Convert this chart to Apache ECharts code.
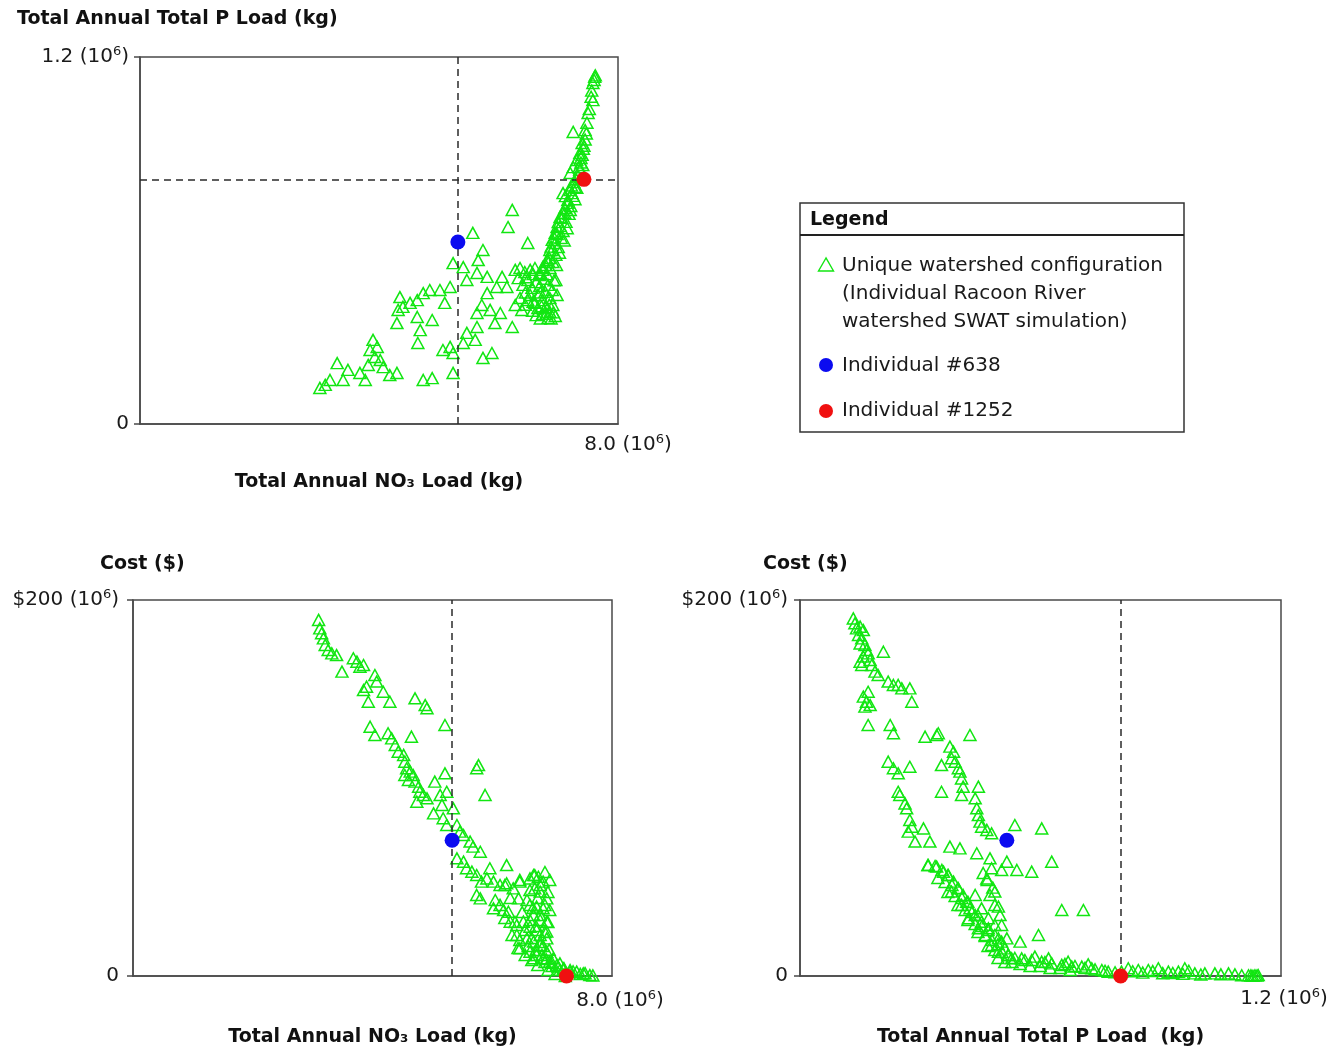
<!DOCTYPE html>
<html><head><meta charset="utf-8">
<script src="https://cdn.jsdelivr.net/npm/echarts@6/dist/echarts.min.js"></script>
<style>html,body{margin:0;padding:0;background:#fff}#c{width:1343px;height:1051px}</style>
</head><body><div id="c"></div>
<script>
// ---- data (NO3 in 10^6 kg, P in 10^6 kg, cost in 10^6 $) ----
const no3VsP = [
[7.61,1.135],[7.60,1.125],[7.62,1.140],[7.58,1.115],[7.56,1.090],[7.58,1.059],[7.50,1.017],[7.48,0.985],[7.25,0.955],[7.45,0.961],[7.45,0.930],[7.40,0.919],[7.42,0.900],[7.36,0.886],[7.38,0.870],[7.31,0.863],[7.25,0.840],[7.20,0.821],[7.28,0.775],[7.23,0.755],[7.08,0.755],[7.16,0.723],[7.11,0.690],[7.03,0.677],[6.98,0.644],[6.95,0.625],[6.90,0.602],[6.86,0.569],[6.81,0.536],[6.74,0.513],[6.69,0.494],
[7.47,0.950],[7.52,1.030],[7.55,1.070],[7.43,0.910],[7.35,0.840],[7.40,0.880],
[6.23,0.700],[6.16,0.644],[6.49,0.592],[5.57,0.625],[5.74,0.569],[5.66,0.536],[5.24,0.526],[5.41,0.513],[5.64,0.494],[5.47,0.471],[5.81,0.481],[6.06,0.481],[6.14,0.448],[5.97,0.448],[5.81,0.428],[5.72,0.389],[5.64,0.363],[5.86,0.373],[6.03,0.363],[5.94,0.330],[6.23,0.317],[5.64,0.317],[5.47,0.298],[5.61,0.275],[5.41,0.265],[5.19,0.252],[5.07,0.242],[5.24,0.232],[5.74,0.216],[5.89,0.232],[5.24,0.167],[4.89,0.150],[4.74,0.144],
[5.19,0.448],[5.10,0.396],[5.02,0.438],[4.85,0.438],[4.74,0.428],[4.64,0.405],[4.52,0.396],[4.40,0.383],[4.35,0.415],[4.32,0.373],[4.30,0.330],[4.64,0.350],[4.89,0.340],[4.69,0.307],[4.65,0.265],
[3.90,0.275],[3.97,0.252],[3.85,0.242],[3.93,0.219],[4.02,0.209],[4.07,0.186],[3.82,0.193],[3.68,0.167],[3.77,0.144],[3.48,0.177],[3.30,0.199],[3.40,0.144],[3.18,0.144],[3.10,0.128],[3.01,0.118],[4.30,0.167],[4.18,0.160],
[7.41,0.847],[7.36,0.831],[7.33,0.811],[7.26,0.791],[7.31,0.772],[7.20,0.765],[7.25,0.746],[7.16,0.732],[7.21,0.713],[7.11,0.706],[7.18,0.687],[7.06,0.674],[7.13,0.661],[7.03,0.647],[7.08,0.631],[6.98,0.621],[7.05,0.608],[6.95,0.592],[7.00,0.579],[6.90,0.569],[6.96,0.553],[6.85,0.543],[6.91,0.530],[6.79,0.520],[6.86,0.510],[6.74,0.504],[6.81,0.490],
[7.38,0.855],[7.30,0.800],[7.22,0.780],[7.28,0.735],[7.12,0.745],[7.20,0.700],[7.08,0.690],[7.15,0.640],[7.00,0.660],[7.10,0.600],[6.93,0.610],[7.02,0.560],[6.88,0.580],[6.97,0.520],[6.84,0.530],[6.93,0.470],[6.76,0.475],
[6.28,0.504],[6.36,0.510],[6.44,0.497],[6.53,0.504],[6.61,0.510],[6.69,0.487],[6.33,0.477],[6.49,0.471],[6.63,0.464],[6.41,0.455],[6.56,0.445],[6.69,0.451],[6.83,0.455],[6.90,0.438],[6.78,0.432],[6.66,0.422],[6.53,0.422],[6.86,0.412],[6.74,0.405],[6.61,0.396],[6.91,0.389],[6.79,0.383],[6.66,0.379],[6.86,0.366],[6.74,0.360],[6.95,0.353],[6.83,0.347],[6.63,0.356],[6.49,0.405],[6.36,0.412],[6.28,0.389],[6.39,0.373],[6.96,0.471],[6.98,0.422],
[6.58,0.490],[6.46,0.480],[6.70,0.430],[6.58,0.400],[6.45,0.390],[6.72,0.385],[6.85,0.390],[6.92,0.365],[6.70,0.345],[6.80,0.360],[6.57,0.370],[6.88,0.345],[6.45,0.430]
];
const no3VsCost = [
[3.10,189.4],[3.12,184.9],[3.15,182.3],[3.18,179.6],[3.21,176.1],[3.26,173.4],[3.32,171.6],[3.40,170.7],[3.49,161.9],[3.68,169.0],[3.74,167.2],[3.79,164.5],[3.85,165.4],[4.04,160.1],[4.07,156.6],[3.90,153.9],[3.85,152.1],[3.93,145.9],[4.18,151.2],[4.29,145.9],[4.71,147.7],[4.88,144.1],[4.91,142.4],[5.21,133.5],
[3.96,132.6],[4.04,128.2],[4.26,129.1],[4.32,126.4],[4.38,122.9],[4.65,127.3],[4.43,119.3],[4.52,117.6],[4.54,114.0],[4.57,110.5],[4.63,108.7],[4.68,106.9],[4.54,106.9],[4.60,104.3],[4.71,103.4],[4.77,100.7],[4.79,98.0],[4.85,96.3],[4.91,94.5],[4.74,92.7],
[5.04,103.4],[5.21,107.8],[5.24,98.0],[5.13,96.3],[5.16,91.0],[5.02,86.5],[5.18,83.9],[5.35,89.2],[5.24,80.3],[5.41,80.3],[5.46,76.8],[5.52,75.0],[5.77,112.2],[5.74,110.5],[5.88,96.3],
[5.63,71.5],[5.68,68.8],[5.80,66.1],[5.41,62.6],[5.52,60.8],[5.57,57.3],[5.66,55.5],[5.74,53.7],[5.82,50.2],[5.96,57.3],[6.24,59.0],[5.91,51.9],[6.02,50.2],[6.13,48.4],[6.24,49.3],[6.35,46.6],[5.74,43.1],[5.80,41.3],[6.02,36.0],[6.19,35.1],[6.27,34.2],[6.44,41.3],[6.46,50.2],
[6.63,51.9],[6.69,53.7],[6.77,52.8],[6.85,50.2],[6.71,46.6],[6.80,44.9],[6.91,41.3],[6.63,37.8],[6.74,36.9],[6.85,36.0],[6.69,32.4],[6.80,29.8],[6.91,28.9],[6.30,28.9],[6.41,27.1],[6.52,28.9],[6.63,26.2],[6.74,24.5],[6.91,23.6],[6.41,21.8],[6.58,20.0],[6.69,18.3],[6.80,16.5],[6.91,20.0],[6.80,21.8],
[6.46,14.7],[6.63,12.9],[6.74,11.2],[6.85,9.4],[6.96,7.6],[7.08,5.9],[7.19,4.1],[7.30,3.2],[7.41,2.3],[7.52,1.4],[7.63,0.5],[7.02,9.4],[7.13,6.7],[6.91,12.9],[6.69,9.4],
[6.71,53.7],[6.88,55.3],[6.96,51.1],[6.80,48.4],[6.63,45.7],[6.93,44.7],[6.76,41.5],[6.58,40.4],[6.88,37.8],[6.68,36.2],[6.96,35.1],[6.50,34.0],[6.80,32.4],[6.63,29.8],[6.93,28.7],[6.38,28.7],[6.73,26.6],[6.55,24.5],[6.88,23.4],[6.33,21.8],[6.66,20.2],[6.46,19.1],[6.80,18.1],[6.60,16.0],[6.43,14.9],[6.73,13.8],[6.55,11.2],[6.83,11.2],[6.66,8.5],[6.88,7.4],[6.76,5.9],[7.00,5.3],[6.93,3.2],[7.13,3.2],[7.30,2.1],[7.47,1.1],[7.05,1.1],[7.22,0.0],
[6.13,37.8],[6.21,30.9],[6.05,40.4],[6.30,41.5],[6.46,51.1],[6.21,48.4],[6.90,9.0],[7.00,7.0],[7.10,5.0],[7.20,4.0],[7.35,2.5],[7.55,1.5],[7.68,0.3],[6.95,14.0],[6.85,16.0]
];
const pVsCost = [
[0.133,190.2],[0.137,187.6],[0.141,184.9],[0.150,185.8],[0.158,184.0],[0.146,181.4],[0.154,179.6],[0.150,176.9],[0.162,176.1],[0.166,173.4],[0.170,171.6],[0.158,169.9],[0.150,167.2],[0.154,165.4],[0.175,168.1],[0.179,165.4],[0.187,161.9],[0.195,160.1],[0.208,172.5],[0.220,156.6],[0.233,154.8],[0.245,154.8],[0.254,153.0],[0.274,153.0],[0.279,145.9],
[0.158,148.6],[0.170,151.2],[0.166,145.9],[0.175,144.1],[0.162,143.3],[0.170,133.5],[0.225,133.5],[0.233,129.1],[0.312,127.3],[0.341,128.2],[0.345,129.1],[0.424,128.2],
[0.374,122.0],[0.383,119.3],[0.378,115.8],[0.387,114.0],[0.395,110.5],[0.399,108.7],[0.403,105.1],[0.407,100.7],[0.403,96.3],[0.445,100.7],[0.437,94.5],[0.441,89.2],[0.445,85.6],[0.449,82.1],[0.453,79.4],[0.466,77.7],[0.478,75.9],[0.353,112.2],[0.353,98.0],[0.536,80.3],[0.603,78.5],
[0.220,114.0],[0.233,110.5],[0.245,107.8],[0.274,111.3],[0.245,98.0],[0.249,96.3],[0.262,91.8],[0.266,89.2],[0.274,83.0],[0.279,79.4],[0.270,76.8],[0.308,78.5],[0.287,71.5],[0.324,71.5],
[0.374,68.8],[0.399,67.9],[0.441,65.3],[0.474,62.6],[0.516,60.8],[0.541,56.4],[0.578,55.5],[0.628,60.8],[0.478,57.3],[0.503,56.4],[0.466,51.9],[0.486,44.9],[0.495,36.9],[0.653,35.1],[0.707,35.1],[0.595,21.8],[0.549,18.3],
[0.320,59.0],[0.341,58.2],[0.358,55.5],[0.370,53.7],[0.383,50.2],[0.395,46.6],[0.407,43.1],[0.416,39.5],[0.424,36.0],[0.437,32.4],[0.453,28.9],[0.470,25.4],[0.486,21.8],[0.503,18.3],[0.511,14.7],[0.520,11.2],[0.528,9.4],
[0.378,44.9],[0.403,37.8],[0.420,30.7],[0.445,25.4],[0.462,21.8],[0.478,16.5],[0.495,12.9],[0.437,43.1],[0.453,36.0],[0.470,30.7],[0.486,27.1],[0.503,27.1],[0.495,20.0],[0.516,20.0],
[0.319,59.0],[0.337,58.5],[0.354,56.4],[0.369,53.7],[0.344,52.1],[0.362,50.0],[0.379,48.4],[0.394,46.8],[0.369,44.7],[0.387,42.6],[0.404,41.5],[0.419,39.4],[0.394,37.8],[0.412,35.1],[0.429,34.0],[0.444,32.4],[0.419,29.8],[0.437,27.7],[0.454,26.6],[0.469,24.5],[0.444,23.4],[0.462,21.3],[0.479,19.1],[0.494,17.0],[0.469,16.0],[0.486,13.8],[0.504,12.8],[0.519,11.2],[0.494,9.6],[0.511,7.4],[0.529,7.4],
[0.457,54.8],[0.467,51.1],[0.474,43.1],[0.486,37.8],[0.499,32.4],[0.481,47.0],
[0.553,9.4],[0.578,8.5],[0.603,7.6],[0.628,6.7],[0.653,5.9],[0.678,5.0],[0.703,5.0],[0.728,4.1],[0.753,3.2],[0.769,2.3],[0.819,4.1],[0.844,3.2],[0.869,3.2],[0.894,4.1],[0.919,2.3],[0.944,2.3],[0.960,4.1],[0.985,1.4],[1.010,1.4],[1.035,1.4],[1.069,1.4],[1.102,0.4],[1.119,0.4],[1.135,0.4],[1.143,0.5],
[0.586,10.3],[0.620,9.4],[0.669,7.6],[0.719,6.2],[0.802,2.3],
[0.549,6.4],[0.574,5.3],[0.599,5.3],[0.624,4.3],[0.649,4.3],[0.674,3.2],[0.536,9.6],[0.561,8.5],[0.611,7.4],[0.661,6.4],[0.686,5.3],[0.711,4.3],
[0.736,3.5],[0.761,2.8],[0.786,2.0],[0.830,2.5],[0.855,1.8],[0.880,2.6],[0.905,1.5],[0.930,1.6],[0.955,1.2],[0.970,2.8],[1.000,0.8],[1.050,0.9],[1.085,0.9],[1.125,0.3],[1.140,0.2],[1.130,0.1]
];
const ind638NO3P = [5.32, 0.595];
const ind1252NO3P = [7.43, 0.800];
const ind638NO3Cost = [5.33, 72.2];
const ind1252NO3Cost = [7.24, 0.0];
const ind638PCost = [0.516, 72.2];
const ind1252PCost = [0.800, 0.0];

const no3Max = 8, pMax = 1.2, costMax = 200;
const no3TickLabel = ['8.0 (10', '6', ')'];
const pTickLabel = ['1.2 (10', '6', ')'];
const costTickLabel = ['$200 (10', '6', ')'];
const legendLabels = ['Unique watershed configuration\n(Individual Racoon River\nwatershed SWAT simulation)', 'Individual #638', 'Individual #1252'];

// ---- styles ----
const FONT = 'DejaVu Sans';
const GREEN = '#12e612', BLUE = '#0b0bf0', RED = '#f01010';
const axisLineStyle = {color: '#4a4a4a', width: 1.5};
const tickRich = {
  n: {fontFamily: FONT, fontSize: 20, color: '#1a1a1a', lineHeight: 24},
  s: {fontFamily: FONT, fontSize: 13, color: '#1a1a1a', verticalAlign: 'top', lineHeight: 13}
};
const sup = p => '{n|' + p[0] + '}{s|' + p[1] + '}{n|' + p[2] + '}';
const nameFont = {fontFamily: FONT, fontSize: 19, fontWeight: 'bold', color: '#111'};

function xAx(gi, max, label, name, nameGap, pad, margin) {
  return {
    gridIndex: gi, type: 'value', min: 0, max: max, interval: max,
    axisLine: {show: true, onZero: false, lineStyle: axisLineStyle},
    axisTick: {show: false}, splitLine: {show: false},
    axisLabel: {showMinLabel: true, showMaxLabel: true, margin: margin, align: 'center', padding: [0, 0, 0, pad],
      formatter: v => (v === max ? sup(label) : ''), rich: tickRich},
    name: name, nameLocation: 'middle', nameGap: nameGap, nameTextStyle: nameFont
  };
}
function yAx(gi, max, label, margin) {
  return {
    gridIndex: gi, type: 'value', min: 0, max: max, interval: max,
    axisLine: {show: true, onZero: false, lineStyle: axisLineStyle},
    axisTick: {show: true, length: 6, lineStyle: axisLineStyle}, splitLine: {show: false},
    axisLabel: {showMinLabel: true, showMaxLabel: true, margin: margin,
      formatter: v => (v === 0 ? '{n|0}' : sup(label)), rich: tickRich}
  };
}
const dash = {type: [7, 5], color: '#2a2a2a', width: 1.5};
function tri(name, gi, data, lines) {
  return {
    name: name, type: 'scatter', xAxisIndex: gi, yAxisIndex: gi, data: data, clip: false,
    symbol: 'triangle', symbolSize: [12, 11],
    itemStyle: {color: 'rgba(0,0,0,0)', borderColor: GREEN, borderWidth: 1.5, opacity: 1},
    markLine: {silent: true, symbol: ['none', 'none'], label: {show: false}, lineStyle: dash, animation: false, data: lines},
    z: 2
  };
}
function dot(name, gi, pt, color) {
  return {name: name, type: 'scatter', xAxisIndex: gi, yAxisIndex: gi, data: [pt], clip: false,
    symbol: 'circle', symbolSize: 15, itemStyle: {color: color, opacity: 1}, z: 5};
}
const gridStyle = {show: true, borderColor: '#4a4a4a', borderWidth: 1.5, backgroundColor: 'transparent'};

const option = {
  animation: false,
  backgroundColor: '#fff',
  textStyle: {fontFamily: FONT},
  title: [
    {text: 'Total Annual Total P Load (kg)', left: 17, top: 10, padding: 0, textStyle: nameFont},
    {text: 'Cost ($)', left: 100, top: 555, padding: 0, textStyle: nameFont},
    {text: 'Cost ($)', left: 763, top: 555, padding: 0, textStyle: nameFont}
  ],
  grid: [
    Object.assign({left: 140, top: 57, width: 478, height: 367}, gridStyle),
    Object.assign({left: 133, top: 600, width: 479, height: 376}, gridStyle),
    Object.assign({left: 800, top: 600, width: 481, height: 376}, gridStyle)
  ],
  xAxis: [
    xAx(0, no3Max, no3TickLabel, 'Total Annual NO₃ Load (kg)', 49, 20, 9),
    xAx(1, no3Max, no3TickLabel, 'Total Annual NO₃ Load (kg)', 52, 16, 13),
    xAx(2, pMax, pTickLabel, 'Total Annual Total P Load  (kg)', 52, 6, 11)
  ],
  yAxis: [
    yAx(0, pMax, pTickLabel, 11),
    yAx(1, costMax, costTickLabel, 14),
    yAx(2, costMax, costTickLabel, 12)
  ],
  graphic: [
    {type: 'rect', shape: {x: 800, y: 203, width: 384, height: 229}, style: {fill: '#fff', stroke: '#333', lineWidth: 1.5}, z: 10},
    {type: 'line', shape: {x1: 800, y1: 235, x2: 1184, y2: 235}, style: {stroke: '#222', lineWidth: 2}, z: 11},
    {type: 'text', x: 810, y: 220, style: {text: 'Legend', font: 'bold 19px "DejaVu Sans"', fill: '#111', verticalAlign: 'middle', align: 'left'}, z: 11},
    {type: 'polygon', shape: {points: [[826, 258], [818.5, 271], [833.5, 271]]}, style: {fill: 'none', stroke: GREEN, lineWidth: 1.4}, z: 11},
    {type: 'text', x: 842, y: 252, style: {text: legendLabels[0], font: '20px "DejaVu Sans"', lineHeight: 28, fill: '#1a1a1a', verticalAlign: 'top', align: 'left'}, z: 11},
    {type: 'circle', shape: {cx: 826, cy: 365, r: 7}, style: {fill: BLUE}, z: 11},
    {type: 'text', x: 842, y: 366, style: {text: legendLabels[1], font: '20px "DejaVu Sans"', fill: '#1a1a1a', verticalAlign: 'middle', align: 'left'}, z: 11},
    {type: 'circle', shape: {cx: 826, cy: 411, r: 7}, style: {fill: RED}, z: 11},
    {type: 'text', x: 842, y: 411, style: {text: legendLabels[2], font: '20px "DejaVu Sans"', fill: '#1a1a1a', verticalAlign: 'middle', align: 'left'}, z: 11}
  ],
  series: [
    tri(legendLabels[0], 0, no3VsP, [{xAxis: ind638NO3P[0]}, {yAxis: ind1252NO3P[1]}]),
    dot(legendLabels[1], 0, ind638NO3P, BLUE),
    dot(legendLabels[2], 0, ind1252NO3P, RED),
    tri(legendLabels[0], 1, no3VsCost, [{xAxis: ind638NO3Cost[0]}]),
    dot(legendLabels[1], 1, ind638NO3Cost, BLUE),
    dot(legendLabels[2], 1, ind1252NO3Cost, RED),
    tri(legendLabels[0], 2, pVsCost, [{xAxis: ind1252PCost[0]}]),
    dot(legendLabels[1], 2, ind638PCost, BLUE),
    dot(legendLabels[2], 2, ind1252PCost, RED)
  ]
};
const chart = echarts.init(document.getElementById('c'), null, {renderer: 'canvas'});
chart.setOption(option);
</script>
</body></html>
